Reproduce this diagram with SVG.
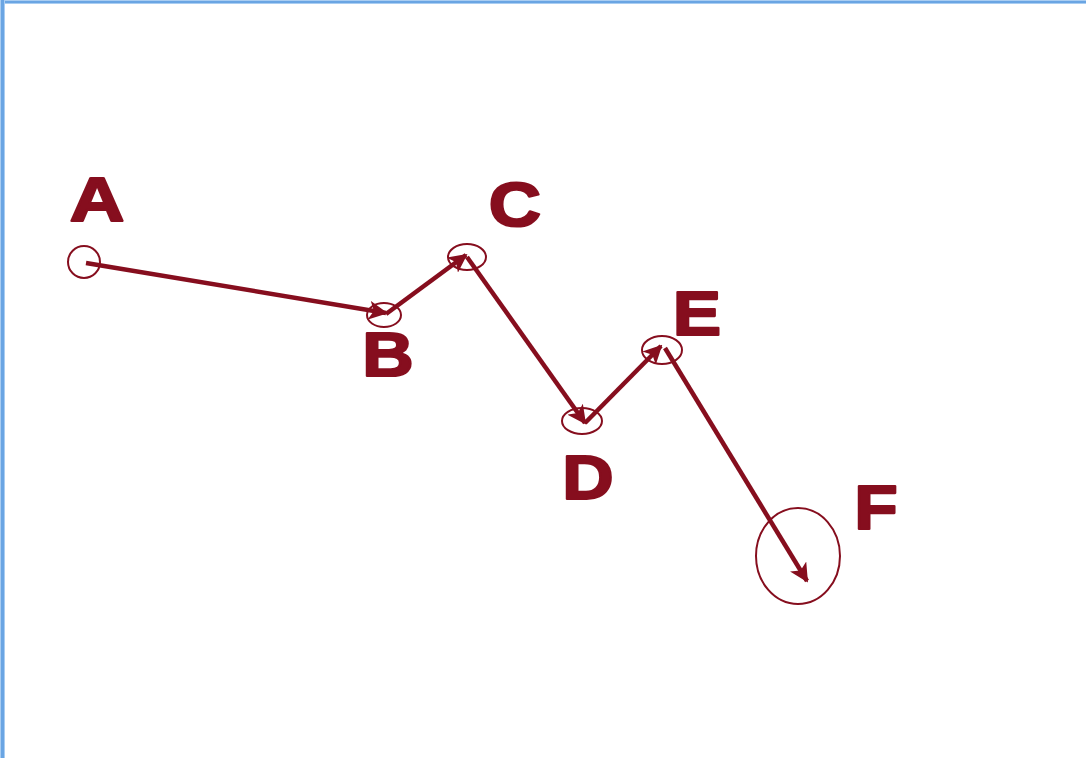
<svg xmlns="http://www.w3.org/2000/svg" width="1086" height="758" viewBox="0 0 1086 758">
<style>
.lbl{font-family:"Liberation Sans",Arial,sans-serif;font-weight:bold;font-size:63px;fill:#860e1e;stroke:#860e1e;stroke-width:2.2;stroke-linejoin:round;text-anchor:middle}
.ring{fill:none;stroke:#860e1e;stroke-width:2}
.edge{fill:none;stroke:#860e1e;stroke-width:4.5;marker-end:url(#ah)}
</style>
<defs>
<marker id="ah" viewBox="0 0 10 10" refX="9" refY="5" markerWidth="4.2" markerHeight="4.2" orient="auto" markerUnits="strokeWidth">
<path d="M0,0 L10,5 L0,10 L2.5,5 Z" fill="#860e1e"/>
</marker>
</defs>
<rect width="1086" height="758" fill="#ffffff"/>
<g id="frame">
<rect x="0" y="0" width="1086" height="4" fill="#a9cdf2"/>
<rect x="0" y="1" width="1086" height="2" fill="#6aa5e3"/>
<rect x="0" y="0" width="5" height="758" fill="#a9cdf2"/>
<rect x="1" y="0" width="3" height="758" fill="#6aa5e3"/>
</g>
<g id="connectors">
<line class="edge" x1="86" y1="263" x2="386" y2="313"/>
<line class="edge" x1="386" y1="314" x2="466" y2="255"/>
<line class="edge" x1="467" y1="257" x2="585" y2="423"/>
<line class="edge" x1="585" y1="423" x2="661" y2="346"/>
<line class="edge" x1="665" y1="348" x2="807" y2="581"/>
</g>
<g id="node-A">
<circle class="ring" cx="84" cy="262" r="16"/>
<text class="lbl" transform="translate(97,221) scale(1.2,1)">A</text>
</g>
<g id="node-B">
<ellipse class="ring" cx="384" cy="315" rx="17" ry="12"/>
<text class="lbl" transform="translate(388,376) scale(1.13,1)">B</text>
</g>
<g id="node-C">
<ellipse class="ring" cx="467" cy="257" rx="19" ry="13"/>
<text class="lbl" transform="translate(515,226) scale(1.15,1)">C</text>
</g>
<g id="node-D">
<ellipse class="ring" cx="582" cy="421" rx="20" ry="13"/>
<text class="lbl" transform="translate(588,499) scale(1.13,1)">D</text>
</g>
<g id="node-E">
<ellipse class="ring" cx="662" cy="350" rx="20" ry="14"/>
<text class="lbl" transform="translate(697,335) scale(1.15,1)">E</text>
</g>
<g id="node-F">
<ellipse class="ring" cx="798" cy="556" rx="42" ry="48"/>
<text class="lbl" transform="translate(876,529) scale(1.13,1)">F</text>
</g>
</svg>
